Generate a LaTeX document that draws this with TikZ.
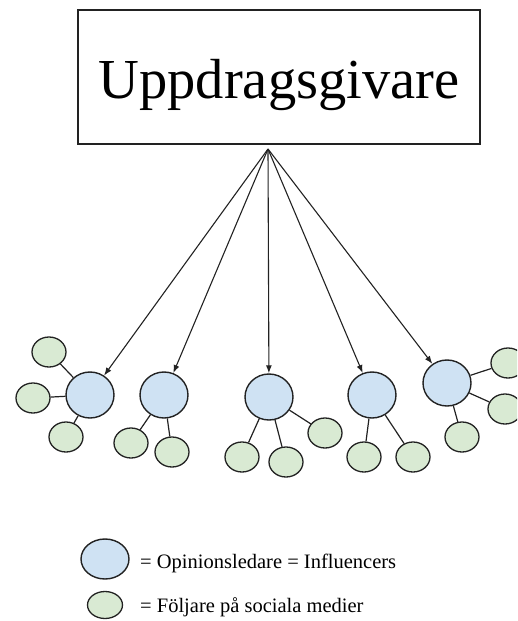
\documentclass[tikz,border=0pt]{standalone}
\usepackage{fontspec}
\setmainfont{Liberation Serif}
\usetikzlibrary{shapes.geometric,arrows.meta}
\definecolor{leaderfill}{HTML}{CFE2F3}
\definecolor{followerfill}{HTML}{D9EAD3}
\definecolor{ink}{HTML}{222222}
\begin{document}
\begin{tikzpicture}[x=1pt,y=-1pt,
  leader/.style={ellipse,draw=ink,fill=leaderfill,line width=1.4pt,
    minimum width=48pt,minimum height=46pt,inner sep=0pt},
  follower/.style={ellipse,draw=ink,fill=followerfill,line width=1.3pt,
    minimum width=34pt,minimum height=30pt,inner sep=0pt},
  link/.style={draw=ink,line width=1.2pt},
  reach/.style={draw=ink,line width=1.1pt,-{Latex[length=8pt,width=6pt]}},
  legendtext/.style={anchor=base west,inner sep=0pt,font=\fontsize{20.5}{24}\selectfont}]
\useasboundingbox (0,0) rectangle (517,621);
\clip (0,0) rectangle (517,621);

% client box
\node[draw=ink,line width=1.1pt,minimum width=402pt,minimum height=134pt,inner sep=0pt]
  (client) at (279,77) {};
\node[anchor=base,inner sep=0pt,font=\fontsize{56.5}{60}\selectfont]
  (clientname) at (279,98) {Uppdragsgivare};
\coordinate (hub) at (268,149);

% opinion leaders
\node[leader] (b1) at (90,395) {};
\node[leader] (b2) at (164,395) {};
\node[leader] (b3) at (269,397) {};
\node[leader] (b4) at (372,395) {};
\node[leader] (b5) at (447,383) {};

% followers
\node[follower] (f11) at (49,352) {};
\node[follower] (f12) at (33,398) {};
\node[follower] (f13) at (66,437) {};
\node[follower] (f21) at (131,443) {};
\node[follower] (f22) at (172,452) {};
\node[follower] (f31) at (242,457) {};
\node[follower] (f32) at (286,462) {};
\node[follower] (f33) at (325,433) {};
\node[follower] (f41) at (364,457) {};
\node[follower] (f42) at (413,457) {};
\node[follower] (f51) at (508,363) {};
\node[follower] (f52) at (505,409) {};
\node[follower] (f53) at (462,437) {};

% leader to follower links
\foreach \b/\f in {b1/f11,b1/f12,b1/f13,b2/f21,b2/f22,b3/f31,b3/f32,b3/f33,
                   b4/f41,b4/f42,b5/f51,b5/f52,b5/f53}
  \draw[link] (\b) -- (\f);

% client reaching the leaders
\foreach \b in {b1,b2,b3,b4,b5}
  \draw[reach] (hub) -- (\b);

% legend
\node[leader,minimum width=48pt,minimum height=40pt] (keyleader) at (105,559) {};
\node[legendtext] (keyleadertext) at (140,568) {= Opinionsledare = Influencers};
\node[follower,minimum width=35pt,minimum height=27pt] (keyfollower) at (105,605) {};
\node[legendtext] (keyfollowertext) at (140,612) {= Följare på sociala medier};
\end{tikzpicture}
\end{document}
